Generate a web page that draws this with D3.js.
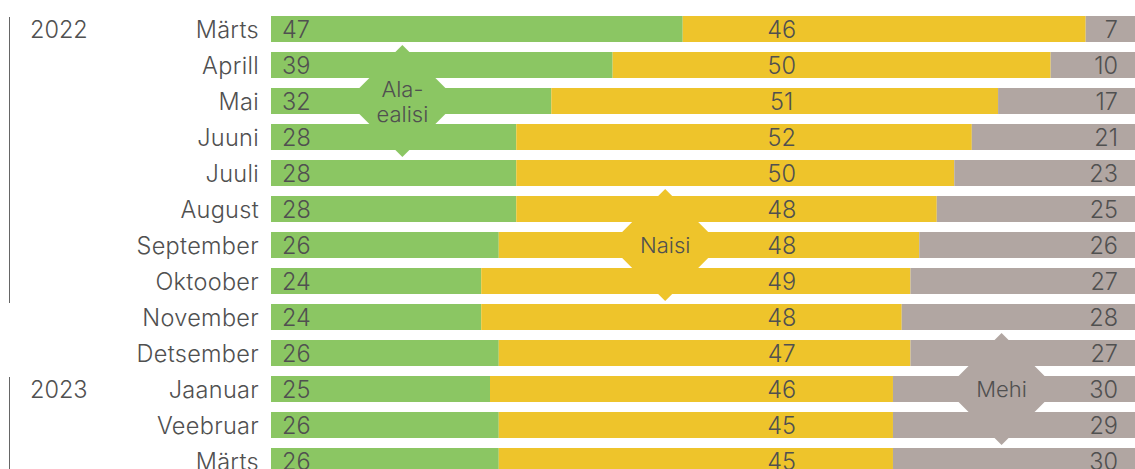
<!DOCTYPE html>
<html>
<head>
<meta charset="utf-8">
<script src="https://cdn.jsdelivr.net/npm/d3@7"></script>
<style>
  body { margin: 0; background: #fff; }
  text { font-family: Inter, Lato, sans-serif; font-weight: 300; fill: #505050; }
</style>
</head>
<body>
<div id="chart"></div>
<script>
var width = 1135, height = 469;

// months, with the year they belong to
var months = ['Märts', 'Aprill', 'Mai', 'Juuni', 'Juuli', 'August', 'September',
  'Oktoober', 'November', 'Detsember', 'Jaanuar', 'Veebruar', 'Märts'];
var years = ['2022', '2022', '2022', '2022', '2022', '2022', '2022',
  '2022', '2022', '2022', '2023', '2023', '2023'];

// shares in %
var alaealisi = [47, 39, 32, 28, 28, 28, 26, 24, 24, 26, 25, 26, 26];
var naisi     = [46, 50, 51, 52, 50, 48, 48, 49, 48, 47, 46, 45, 45];
var mehi      = [7, 10, 17, 21, 23, 25, 26, 27, 28, 27, 30, 29, 30];

var seriesNames = ['Ala-ealisi', 'Naisi', 'Mehi'];
var seriesColors = ['#8bc663', '#eec42b', '#b1a6a2'];

// callout diamonds: row index and value position
var callouts = [
  { lines: ['Ala-', 'ealisi'], row: 2, at: 15, series: 0 },
  { lines: ['Naisi'], row: 6, at: 45, series: 1 },
  { lines: ['Mehi'], row: 10, at: 83.4, series: 2 }
];

var svg = d3.select('#chart').append('svg')
  .attr('width', width)
  .attr('height', height);

var x = d3.scaleLinear().domain([0, 100]).range([271, 1147]);
var y = d3.scaleBand().domain(d3.range(months.length))
  .range([16, 16 + 36 * months.length - 10])
  .paddingInner(10 / 36).paddingOuter(0).align(0);

var rows = months.map(function(m, i) {
  return { i: i, a: alaealisi[i], n: naisi[i], m: mehi[i] };
});

var stack = d3.stack().keys(['a', 'n', 'm']);
var layers = stack(rows);

// diamonds drawn under the bars so they merge with their segment
var half = 56;
svg.append('g').selectAll('path')
  .data(callouts)
  .enter().append('path')
  .attr('d', function(d) {
    var cx = x(d.at), cy = y(d.row) + y.bandwidth() / 2;
    return 'M' + cx + ',' + (cy - half) + 'L' + (cx + half) + ',' + cy +
      'L' + cx + ',' + (cy + half) + 'L' + (cx - half) + ',' + cy + 'Z';
  })
  .attr('fill', function(d) { return seriesColors[d.series]; });

svg.append('g').selectAll('g')
  .data(layers)
  .enter().append('g')
  .attr('fill', function(d, k) { return seriesColors[k]; })
  .selectAll('rect')
  .data(function(d) { return d; })
  .enter().append('rect')
  .attr('x', function(d) { return x(d[0]); })
  .attr('y', function(d) { return y(d.data.i); })
  .attr('width', function(d) { return x(d[1]) - x(d[0]); })
  .attr('height', y.bandwidth());

var fs = 23.5, capShift = 8.5;

// value labels
var labels = svg.append('g').attr('font-size', fs + 'px');
rows.forEach(function(r) {
  var cy = y(r.i) + y.bandwidth() / 2 + capShift;
  labels.append('text').attr('x', 282).attr('y', cy).text(r.a);
  labels.append('text').attr('x', x(58.3)).attr('y', cy)
    .attr('text-anchor', 'middle').text(r.n);
  labels.append('text').attr('x', 1118).attr('y', cy)
    .attr('text-anchor', 'end').text(r.m);
});

// month labels
svg.append('g').attr('font-size', fs + 'px')
  .attr('letter-spacing', '0.3px')
  .selectAll('text')
  .data(months)
  .enter().append('text')
  .attr('x', 259)
  .attr('y', function(d, i) { return y(i) + y.bandwidth() / 2 + capShift; })
  .attr('text-anchor', 'end')
  .text(function(d) { return d; });

// year labels + brackets
var yearStarts = years.map(function(yr, i) { return i; })
  .filter(function(i) { return i === 0 || years[i] !== years[i - 1]; });
var yearLineEnd = { '2022': 303, '2023': 480 };
var yg = svg.append('g');
yearStarts.forEach(function(i) {
  yg.append('line')
    .attr('x1', 9.5).attr('x2', 9.5)
    .attr('y1', y(i) + 1).attr('y2', yearLineEnd[years[i]])
    .attr('stroke', '#666').attr('stroke-width', 1);
  yg.append('text')
    .attr('x', 30)
    .attr('y', y(i) + y.bandwidth() / 2 + capShift)
    .attr('font-size', fs + 'px')
    .text(years[i]);
});

// callout texts
callouts.forEach(function(d) {
  var cx = x(d.at), cy = y(d.row) + y.bandwidth() / 2;
  var lh = 25, top = cy - (d.lines.length - 1) * lh / 2;
  d.lines.forEach(function(t, k) {
    svg.append('text')
      .attr('x', cx).attr('y', top + k * lh + 8)
      .attr('text-anchor', 'middle')
      .attr('font-size', '22px')
      .text(t);
  });
});
</script>
</body>
</html>
